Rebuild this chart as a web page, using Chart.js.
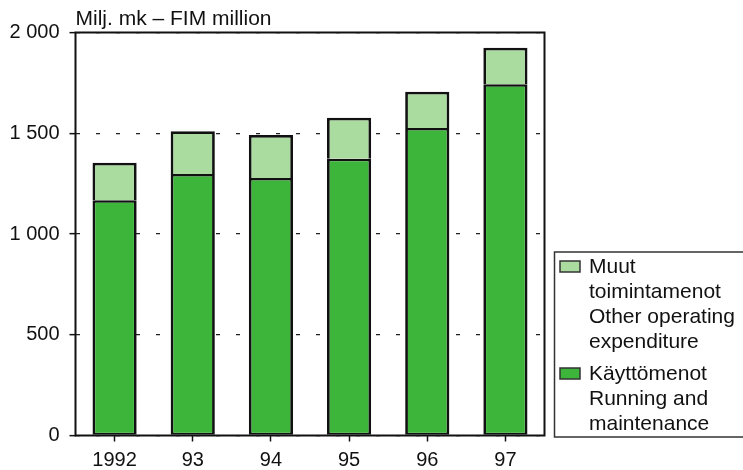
<!DOCTYPE html>
<html><head><meta charset="utf-8">
<script src="https://cdn.jsdelivr.net/npm/chart.js@4/dist/chart.umd.min.js"></script>
<style>html,body{margin:0;padding:0;background:#fff;} #wrap{position:relative;width:743px;height:470px;} canvas{display:block}</style>
</head><body><div id="wrap"><canvas id="c" width="743" height="470"></canvas></div>
<script>
const categories = ['1992','93','94','95','96','97'];
const runningMaintenance = [1168,1298,1278,1374,1526,1743];
const otherOperating = [186,212,213,203,180,181];
const yTickValues = [0,500,1000,1500,2000];
const yTickLabels = ['0','500','1 000','1 500','2 000'];
const unitTitle = 'Milj. mk \u2013 FIM million';
const labelRunning = ['Käyttömenot','Running and','maintenance'];
const labelOther = ['Muut','toimintamenot','Other operating','expenditure'];

const FONT = '"Liberation Sans", Arial, Helvetica, sans-serif';
const DARK = '#3db43a';
const LIGHT = '#aadb9f';

const framePlugin = {
  id: 'frameAndLegend',
  afterDraw(chart) {
    const ctx = chart.ctx, a = chart.chartArea;
    ctx.save();
    ctx.strokeStyle = '#111';
    ctx.lineWidth = 2;
    ctx.strokeRect(a.left, a.top, a.right - a.left, a.bottom - a.top);
    ctx.fillStyle = '#111';
    ctx.font = '21px ' + FONT;
    ctx.textAlign = 'left';
    ctx.textBaseline = 'alphabetic';
    ctx.fillText(unitTitle, a.left, 25);
    ctx.lineWidth = 1.5;
    ctx.strokeStyle = '#333';
    ctx.strokeRect(554.5, 252, 220, 185);
    const items = chart.data.datasets.slice().reverse();
    let y = 273;
    items.forEach((ds) => {
      ctx.fillStyle = ds.backgroundColor;
      ctx.fillRect(560, y - 12, 20, 11);
      ctx.lineWidth = 1.5;
      ctx.strokeStyle = '#333';
      ctx.strokeRect(560, y - 12, 20, 11);
      ctx.fillStyle = '#111';
      ds.label.forEach((line, i) => {
        ctx.fillText(line, 589, y + i * 25);
      });
      y += ds.label.length * 25 + 7;
    });
    ctx.restore();
  }
};

new Chart(document.getElementById('c'), {
  type: 'bar',
  data: {
    labels: categories,
    datasets: [
      { label: labelRunning, data: runningMaintenance, backgroundColor: DARK, borderColor: '#111',
        borderWidth: {top: 2.5, left: 2.75, right: 2.75, bottom: 2}, borderSkipped: false, inflateAmount: 0 },
      { label: labelOther, data: otherOperating, backgroundColor: LIGHT, borderColor: '#111',
        borderWidth: {top: 2.75, left: 2.75, right: 2.75, bottom: 0}, borderSkipped: false, inflateAmount: 0 }
    ]
  },
  options: {
    responsive: false,
    devicePixelRatio: 1,
    animation: false,
    barPercentage: 0.565,
    categoryPercentage: 1.0,
    layout: { padding: { top: 32.5, right: 198.5, bottom: 0, left: 0 } },
    plugins: { legend: { display: false }, tooltip: { enabled: false }, title: { display: false } },
    scales: {
      x: {
        stacked: true,
        grid: { drawOnChartArea: false, offset: false, drawTicks: true, tickLength: 6, tickColor: '#111', tickWidth: 1.5 },
        border: { display: false },
        ticks: { color: '#111', font: { family: FONT, size: 20 }, padding: 7, maxRotation: 0 },
        afterFit(s) { s.height = 34.5; }
      },
      y: {
        stacked: true,
        min: 0, max: 2000,
        afterBuildTicks(s) { s.ticks = yTickValues.map(v => ({ value: v })); },
        grid: { color: '#222', lineWidth: 1.3, drawTicks: true, tickLength: 6, tickColor: '#111', tickWidth: 1.5, tickBorderDash: [] },
        border: { display: false, dash: [4, 16] },
        ticks: { color: '#111', font: { family: FONT, size: 20 }, padding: 10,
                 callback: (v) => yTickLabels[yTickValues.indexOf(v)] },
        afterFit(s) { s.width = 75.5; }
      }
    }
  },
  plugins: [framePlugin]
});
</script>
</body></html>
